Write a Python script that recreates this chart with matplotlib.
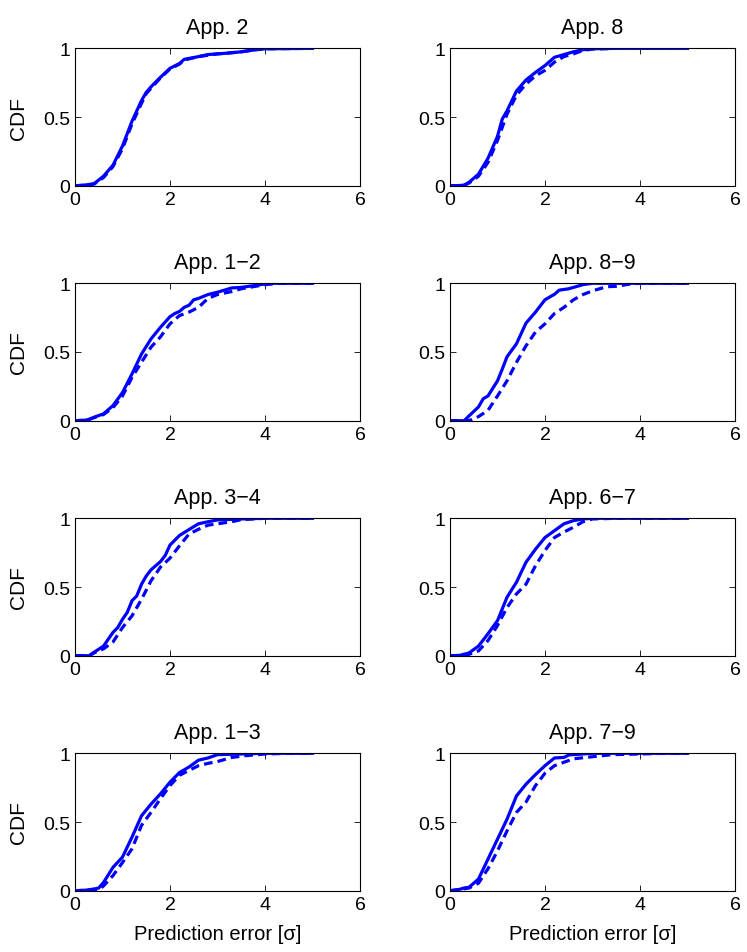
import numpy as np
import matplotlib
matplotlib.use('Agg')
import matplotlib.pyplot as plt

plt.rcParams['font.family'] = ['Liberation Sans', 'DejaVu Sans']

# panel titles, in reading order (row by row)
titles = ['App. 2', 'App. 8',
          'App. 1\u22122', 'App. 8\u22129',
          'App. 3\u22124', 'App. 6\u22127',
          'App. 1\u22123', 'App. 7\u22129']

# CDF curves: (x, y) for solid and dashed
app2_solid_x = [0, 0.2, 0.4, 0.6, 0.8, 1.0, 1.2, 1.4, 1.5, 1.6, 1.8, 2.0, 2.2, 2.3, 2.6, 2.8, 3.0, 3.2, 3.5, 3.8, 4.0, 5.0]
app2_solid_y = [0, 0.005, 0.015, 0.07, 0.15, 0.29, 0.47, 0.62, 0.68, 0.72, 0.79, 0.855, 0.89, 0.92, 0.94, 0.955, 0.96, 0.965, 0.975, 0.99, 0.997, 1.0]
app2_dash_x = [0, 0.2, 0.4, 0.6, 0.8, 1.0, 1.2, 1.4, 1.5, 1.6, 1.8, 2.0, 2.2, 2.3, 2.6, 2.8, 3.0, 3.2, 3.5, 3.8, 4.0, 5.0]
app2_dash_y = [0, 0.004, 0.012, 0.06, 0.14, 0.27, 0.45, 0.60, 0.67, 0.71, 0.785, 0.85, 0.885, 0.915, 0.94, 0.95, 0.96, 0.965, 0.975, 0.99, 0.997, 1.0]

app8_solid_x = [0, 0.2, 0.3, 0.4, 0.6, 0.8, 1.0, 1.1, 1.2, 1.4, 1.6, 1.8, 2.0, 2.2, 2.4, 2.6, 2.8, 3.0, 3.5, 5.0]
app8_solid_y = [0, 0.002, 0.005, 0.025, 0.085, 0.2, 0.36, 0.485, 0.545, 0.69, 0.77, 0.825, 0.875, 0.935, 0.955, 0.975, 0.99, 0.997, 1.0, 1.0]
app8_dash_x = [0, 0.2, 0.3, 0.4, 0.6, 0.8, 1.0, 1.2, 1.4, 1.6, 1.8, 2.0, 2.2, 2.4, 2.6, 2.8, 3.0, 3.5, 5.0]
app8_dash_y = [0, 0.002, 0.004, 0.02, 0.07, 0.17, 0.33, 0.52, 0.66, 0.74, 0.80, 0.84, 0.90, 0.94, 0.96, 0.985, 0.995, 1.0, 1.0]

app12_solid_x = [0, 0.2, 0.3, 0.4, 0.6, 0.8, 1.0, 1.2, 1.4, 1.6, 1.8, 2.0, 2.1, 2.2, 2.3, 2.4, 2.5, 2.6, 2.8, 3.0, 3.3, 3.5, 4.0, 4.2, 5.0]
app12_solid_y = [0, 0.003, 0.01, 0.025, 0.05, 0.11, 0.205, 0.34, 0.485, 0.595, 0.68, 0.757, 0.78, 0.795, 0.825, 0.84, 0.88, 0.89, 0.918, 0.935, 0.966, 0.97, 0.995, 1.0, 1.0]
app12_dash_x = [0, 0.2, 0.3, 0.4, 0.6, 0.8, 1.0, 1.2, 1.4, 1.6, 1.8, 2.0, 2.2, 2.4, 2.6, 2.8, 3.0, 3.3, 3.5, 4.0, 4.3, 5.0]
app12_dash_y = [0, 0.003, 0.01, 0.022, 0.045, 0.095, 0.18, 0.315, 0.425, 0.535, 0.61, 0.705, 0.765, 0.79, 0.825, 0.89, 0.918, 0.94, 0.96, 0.99, 1.0, 1.0]

app89_solid_x = [0, 0.3, 0.4, 0.6, 0.7, 0.8, 1.0, 1.1, 1.2, 1.4, 1.6, 1.8, 2.0, 2.2, 2.3, 2.5, 2.8, 3.0, 5.0]
app89_solid_y = [0, 0.0, 0.035, 0.1, 0.16, 0.18, 0.29, 0.375, 0.465, 0.56, 0.71, 0.79, 0.88, 0.92, 0.95, 0.96, 0.99, 1.0, 1.0]
app89_dash_x = [0, 0.4, 0.6, 0.8, 1.0, 1.2, 1.4, 1.6, 1.8, 2.0, 2.2, 2.4, 2.6, 2.8, 3.0, 3.3, 3.5, 3.8, 4.0, 5.0]
app89_dash_y = [0, 0.0, 0.03, 0.075, 0.18, 0.29, 0.425, 0.545, 0.645, 0.705, 0.78, 0.825, 0.88, 0.918, 0.945, 0.975, 0.978, 0.995, 1.0, 1.0]

app34_solid_x = [0, 0.3, 0.4, 0.6, 0.8, 0.9, 1.0, 1.1, 1.2, 1.3, 1.4, 1.5, 1.6, 1.8, 1.9, 2.0, 2.2, 2.4, 2.6, 2.8, 3.0, 3.5, 4.0, 5.0]
app34_solid_y = [0, 0.0, 0.025, 0.07, 0.17, 0.205, 0.265, 0.315, 0.4, 0.435, 0.52, 0.58, 0.625, 0.685, 0.73, 0.805, 0.875, 0.918, 0.96, 0.975, 0.988, 0.995, 1.0, 1.0]
app34_dash_x = [0, 0.3, 0.4, 0.6, 0.8, 1.0, 1.2, 1.4, 1.6, 1.8, 2.0, 2.2, 2.4, 2.6, 2.8, 3.0, 3.3, 3.5, 4.0, 5.0]
app34_dash_y = [0, 0.0, 0.02, 0.05, 0.1, 0.205, 0.29, 0.41, 0.545, 0.645, 0.71, 0.8, 0.885, 0.92, 0.95, 0.96, 0.975, 0.99, 1.0, 1.0]

app67_solid_x = [0, 0.2, 0.4, 0.6, 0.8, 1.0, 1.2, 1.4, 1.6, 1.8, 2.0, 2.2, 2.4, 2.6, 2.8, 3.0, 5.0]
app67_solid_y = [0, 0.002, 0.02, 0.07, 0.16, 0.255, 0.425, 0.535, 0.68, 0.775, 0.86, 0.91, 0.96, 0.983, 0.995, 1.0, 1.0]
app67_dash_x = [0, 0.2, 0.4, 0.6, 0.8, 1.0, 1.2, 1.4, 1.6, 1.8, 2.0, 2.2, 2.4, 2.6, 2.8, 3.0, 3.5, 5.0]
app67_dash_y = [0, 0.002, 0.01, 0.035, 0.11, 0.22, 0.35, 0.45, 0.52, 0.655, 0.765, 0.86, 0.9, 0.935, 0.975, 0.995, 1.0, 1.0]

app13_solid_x = [0, 0.2, 0.4, 0.5, 0.6, 0.8, 1.0, 1.2, 1.4, 1.6, 1.8, 2.0, 2.2, 2.4, 2.6, 2.8, 3.0, 3.5, 4.0, 5.0]
app13_solid_y = [0, 0.003, 0.012, 0.02, 0.06, 0.17, 0.245, 0.39, 0.545, 0.63, 0.705, 0.79, 0.86, 0.9, 0.95, 0.966, 0.99, 0.995, 1.0, 1.0]
app13_dash_x = [0, 0.2, 0.4, 0.5, 0.6, 0.8, 1.0, 1.2, 1.4, 1.6, 1.8, 2.0, 2.2, 2.4, 2.6, 2.8, 3.0, 3.3, 3.6, 4.0, 4.5, 5.0]
app13_dash_y = [0, 0.003, 0.01, 0.005, 0.035, 0.11, 0.205, 0.305, 0.475, 0.57, 0.67, 0.765, 0.84, 0.875, 0.91, 0.927, 0.94, 0.97, 0.983, 0.995, 1.0, 1.0]

app79_solid_x = [0, 0.2, 0.3, 0.4, 0.6, 0.8, 1.0, 1.2, 1.4, 1.6, 1.8, 2.0, 2.2, 2.4, 2.5, 2.8, 3.0, 5.0]
app79_solid_y = [0, 0.01, 0.02, 0.025, 0.085, 0.23, 0.375, 0.52, 0.69, 0.775, 0.845, 0.91, 0.966, 0.97, 0.988, 0.995, 1.0, 1.0]
app79_dash_x = [0, 0.2, 0.4, 0.6, 0.8, 1.0, 1.2, 1.4, 1.6, 1.8, 2.0, 2.2, 2.4, 2.6, 3.0, 3.4, 4.0, 4.5, 5.0]
app79_dash_y = [0, 0.008, 0.02, 0.055, 0.16, 0.29, 0.435, 0.57, 0.645, 0.765, 0.855, 0.91, 0.935, 0.96, 0.975, 0.99, 0.995, 1.0, 1.0]

solid = [(app2_solid_x, app2_solid_y), (app8_solid_x, app8_solid_y),
         (app12_solid_x, app12_solid_y), (app89_solid_x, app89_solid_y),
         (app34_solid_x, app34_solid_y), (app67_solid_x, app67_solid_y),
         (app13_solid_x, app13_solid_y), (app79_solid_x, app79_solid_y)]
dashed = [(app2_dash_x, app2_dash_y), (app8_dash_x, app8_dash_y),
          (app12_dash_x, app12_dash_y), (app89_dash_x, app89_dash_y),
          (app34_dash_x, app34_dash_y), (app67_dash_x, app67_dash_y),
          (app13_dash_x, app13_dash_y), (app79_dash_x, app79_dash_y)]

fig = plt.figure(figsize=(7.47, 9.53), dpi=100)

lefts = [0.1004, 0.6024]
bottoms = [0.804, 0.5575, 0.3109, 0.0643]
w, h = 0.3815, 0.1442

for i in range(8):
    row, col = i // 2, i % 2
    ax = fig.add_axes([lefts[col], bottoms[row], w, h])
    ax.plot(dashed[i][0], dashed[i][1], color='#0000ff', lw=2.3, ls=(0, (2.7, 1.6)))
    ax.plot(solid[i][0], solid[i][1], color='#0000ff', lw=2.3)
    ax.set_xlim(0, 6)
    ax.set_ylim(0, 1)
    ax.set_xticks([0, 2, 4, 6])
    ax.set_yticks([0, 0.5, 1])
    ax.set_yticklabels(['0', '0.5', '1'])
    ax.tick_params(direction='in', top=True, right=True, labelsize=14, length=4, width=0.6)
    for s in ax.spines.values():
        s.set_linewidth(0.8)
    ax.set_title(titles[i], fontsize=15.5, pad=11)
    if col == 0:
        ax.set_ylabel('CDF', fontsize=15, labelpad=11)
    if row == 3:
        ax.set_xlabel('Prediction error [\u03c3]', fontsize=14.5, labelpad=8)

fig.savefig('out.png', dpi=100)
